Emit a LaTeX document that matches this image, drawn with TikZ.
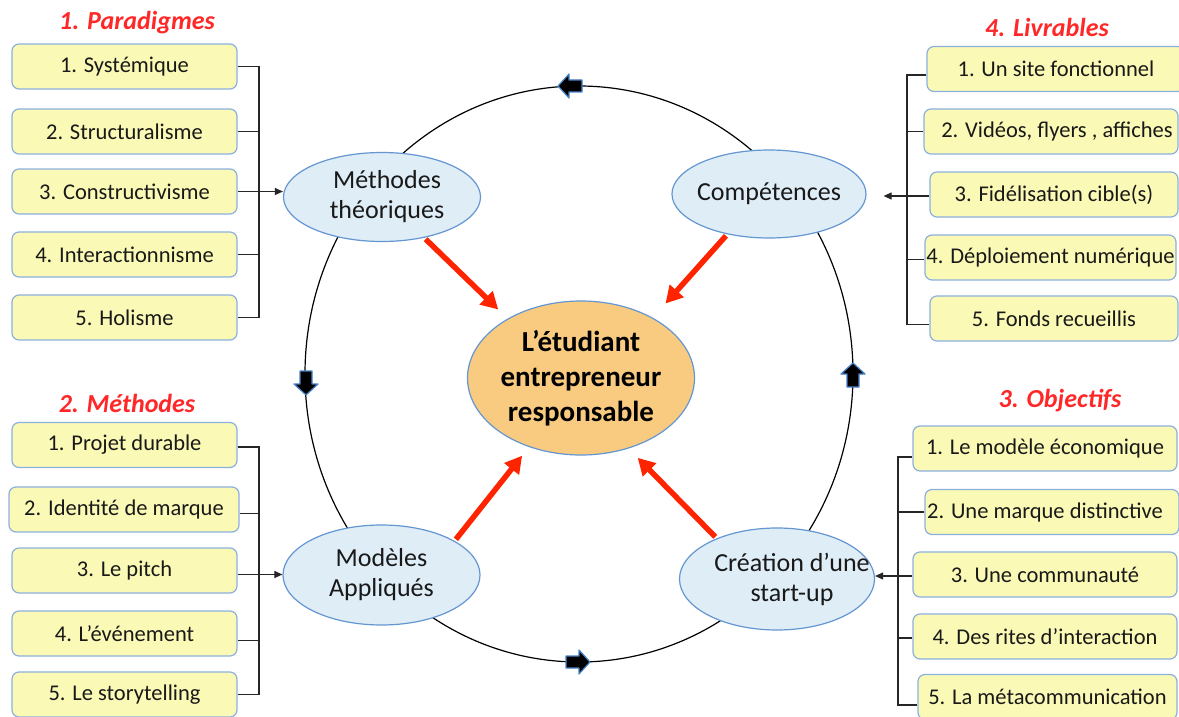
\documentclass[tikz,border=0pt]{standalone}
\usepackage{fontspec}
\setmainfont{Carlito}
\usetikzlibrary{shapes.geometric,arrows.meta,calc}
\definecolor{boxfill}{RGB}{250,250,182}
\definecolor{boxline}{RGB}{140,176,222}
\definecolor{ellfill}{RGB}{223,237,247}
\definecolor{ellline}{RGB}{100,150,210}
\definecolor{ctrfill}{RGB}{249,203,128}
\definecolor{redarrow}{RGB}{255,36,0}
\definecolor{titlered}{RGB}{255,40,40}
\definecolor{glow}{RGB}{70,130,200}
\tikzset{
  item/.style={draw=boxline, line width=1.2pt, fill=boxfill, rounded corners=7pt,
    minimum width=225pt, minimum height=45pt, inner sep=0pt,
    font=\fontsize{22.5}{26}\selectfont, text=black!90},
  ell/.style={ellipse, draw=ellline, line width=1.2pt, fill=ellfill, inner sep=0pt,
    align=center, font=\fontsize{26}{30}\selectfont, text=black!90},
  ctrstyle/.style={ellipse, draw=ellline, line width=1.2pt, fill=ctrfill, inner sep=0pt,
    align=center, font=\fontsize{29}{35}\selectfont\bfseries},
  ttl/.style={font=\fontsize{26}{30}\selectfont\bfseries\itshape, text=titlered, inner sep=0pt},
  conn/.style={line width=1.1pt, draw=black!85},
  connarr/.style={conn, -{Triangle[length=8pt,width=7pt]}},
  redarr/.style={line width=5.5pt, draw=redarrow, -{Triangle[length=17pt,width=18pt]}},
  blockarr/.pic={\path[fill=black, draw=glow, line width=1.2pt, line join=round]
    (-12,0) -- (-1,-12) -- (-1,-6) -- (12,-6) -- (12,6) -- (-1,6) -- (-1,12) -- cycle;}
}
\begin{document}
\begin{tikzpicture}[x=1pt,y=-1pt]
\useasboundingbox[fill=white] (0,0) rectangle (1179,717);

% big loop
\draw[line width=1.2pt] (579,374) ellipse [x radius=274pt, y radius=288pt];

% block arrows on the loop
\pic at (570,86) {blockarr};
\pic[rotate=90] at (306,383) {blockarr};
\pic[rotate=180] at (578,662) {blockarr};
\pic[rotate=-90] at (853,375) {blockarr};

% ellipses
\node[ell, minimum width=197pt, minimum height=89pt] (mt) at (382,197)
  {\makebox[0pt]{\hspace*{10pt}Méthodes}\\\makebox[0pt]{\hspace*{10pt}théoriques}};
\node[ell, minimum width=194pt, minimum height=88pt] (cp) at (769,194)
  {\makebox[0pt]{Compétences}};
\node[ell, minimum width=197pt, minimum height=100pt] (ma) at (381.5,575)
  {\makebox[0pt]{Modèles}\\\makebox[0pt]{Appliqués}};
\node[ell, minimum width=195pt, minimum height=102pt] (cr) at (777,579)
  {\makebox[0pt]{\hspace*{30pt}Création d’une}\\\makebox[0pt]{\hspace*{30pt}start-up}};
\node[ctrstyle, minimum width=227pt, minimum height=154pt] (ctr) at (581,378)
  {\makebox[0pt]{L’étudiant}\\\makebox[0pt]{entrepreneur}\\\makebox[0pt]{responsable}};

% red arrows
\draw[redarr, shorten <=2pt, shorten >=13pt] (mt.-44) -- (ctr.141);
\draw[redarr, shorten <=2pt, shorten >=19pt] (cp.-136) -- (ctr.40);
\draw[redarr, shorten <=2pt, shorten >=11pt] (ma.25) -- (ctr.233);
\draw[redarr, shorten <=2pt, shorten >=13pt] (cr.146) -- (ctr.-56);

% titles
\node[ttl] (t1) at (137,23) {1. Paradigmes};
\node[ttl] (t2) at (127,403) {2. Méthodes};
\node[ttl] (t3) at (1060,401) {3. Objectifs};
\node[ttl] (t4) at (1047,27) {4. Livrables};

% 1. Paradigmes
\node[item] (p1) at (124.5,66.5) {1. Systémique};
\node[item] (p2) at (124.5,131.5) {2. Structuralisme};
\node[item] (p3) at (124.5,191.5) {3. Constructivisme};
\node[item] (p4) at (124.5,254.5) {4. Interactionnisme};
\node[item] (p5) at (124.5,317.5) {5. Holisme};
\coordinate (bl) at (259,0);
\draw[conn] (p1.east) -- (p1.east -| bl) -- (p5.east -| bl) -- (p5.east);
\draw[conn] (p2.east) -- (p2.east -| bl);
\draw[conn] (p4.east) -- (p4.east -| bl);
\draw[conn] (p3.east) -- (p3.east -| bl);
\draw[connarr] (p3.east -| bl) -- (p3.east -| mt.west);

% 2. Méthodes
\node[item] (m1) at (124.5,445) {1. Projet durable};
\node[item, minimum width=230pt] (m2) at (124,509.5) {2. Identité de marque};
\node[item] (m3) at (124.5,570.5) {3. Le pitch};
\node[item] (m4) at (124.5,633.5) {4. L’événement};
\node[item] (m5) at (124.5,694.5) {5. Le storytelling};
\draw[conn] ([yshift=-2pt]m1.east) -- ([yshift=-2pt]m1.east -| bl) -- (m5.east -| bl) -- (m5.east);
\draw[conn] ([yshift=-4pt]m2.east) -- ([yshift=-4pt]m2.east -| bl);
\draw[conn] ([yshift=-7pt]m4.east) -- ([yshift=-7pt]m4.east -| bl);
\draw[conn] ([yshift=-4pt]m3.east) -- ([yshift=-4pt]m3.east -| bl);
\draw[connarr] ([yshift=-4pt]m3.east -| bl) -- ([yshift=-4pt]m3.east -| ma.west);

% 4. Livrables
\node[item, minimum width=258pt] (l1) at (1056,69) {1. Un site fonctionnel};
\node[item, minimum width=254pt] (l2) at (1051,131.5) {\hspace*{12pt}2. Vidéos, flyers , affiches};
\node[item, minimum width=248pt] (l3) at (1054,194.5) {3. Fidélisation cible(s)};
\node[item, minimum width=251pt] (l4) at (1050.5,257.5) {4. Déploiement numérique};
\node[item, minimum width=248pt] (l5) at (1054,318.5) {5. Fonds recueillis};
\coordinate (br1) at (907,0);
\draw[conn] ([yshift=-6pt]l1.west) -- ([yshift=-6pt]l1.west -| br1) -- ([yshift=-6pt]l5.west -| br1) -- ([yshift=-6pt]l5.west);
\draw[conn] (l2.west) -- (l2.west -| br1);
\draw[conn] ([yshift=-2pt]l4.west) -- ([yshift=-2pt]l4.west -| br1);
\draw[conn] ([yshift=-1.5pt]l3.west) -- ([yshift=-1.5pt]l3.west -| br1);
\draw[connarr, shorten >=17pt] ([yshift=-1.5pt]l3.west -| br1) -- ([yshift=-1.5pt]l3.west -| cp.east);

% 3. Objectifs
\node[item, minimum width=264pt] (o1) at (1045,448.5) {1. Le modèle économique};
\node[item, minimum width=254pt] (o2) at (1052,512) {\hspace*{-14pt}2. Une marque distinctive};
\node[item, minimum width=264pt] (o3) at (1045,574.5) {3. Une communauté};
\node[item, minimum width=264pt] (o4) at (1045,636.5) {4. Des rites d’interaction};
\node[item, minimum width=259pt] (o5) at (1047.5,697) {5. La métacommunication};
\coordinate (br2) at (898,0);
\draw[conn] ([yshift=-8.5pt]o1.west) -- ([yshift=-8.5pt]o1.west -| br2) -- ([yshift=-8pt]o5.west -| br2) -- ([yshift=-8pt]o5.west);
\draw[conn] (o2.west) -- (o2.west -| br2);
\draw[conn] ([yshift=-1.5pt]o4.west) -- ([yshift=-1.5pt]o4.west -| br2);
\draw[conn] ([yshift=-1.5pt]o3.west) -- ([yshift=-1.5pt]o3.west -| br2);
\draw[connarr] ([yshift=-1.5pt]o3.west -| br2) -- ([yshift=-1.5pt]o3.west -| cr.east);
\end{tikzpicture}
\end{document}
